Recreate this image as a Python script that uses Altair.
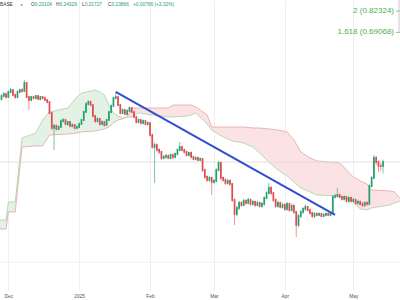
import altair as alt
import pandas as pd

# ---------------- data ----------------
START = "2024-11-28"
FIRST_OPEN = 0.4000
closes = [
    0.4101, 0.4169, 0.4067, 0.4238, 0.4308, 0.4135, 0.4067, 0.4238, 0.4308, 0.4273,
    0.4562, 0.4067, 0.3969, 0.4067, 0.4034, 0.4101, 0.4001, 0.4067, 0.4034, 0.3969,
    0.3905, 0.3568, 0.3155, 0.3208, 0.3130, 0.3181, 0.3341, 0.3369, 0.3260, 0.3314,
    0.3208, 0.3234, 0.3155, 0.3181, 0.3260, 0.3369, 0.3597, 0.3841, 0.3905, 0.3810,
    0.3481, 0.3341, 0.3397, 0.3260, 0.3314, 0.3234, 0.3369, 0.3597, 0.3779, 0.4034,
    0.4067, 0.3810, 0.3568, 0.3657, 0.3539, 0.3627, 0.3717, 0.3597, 0.3453, 0.3314,
    0.3369, 0.3287, 0.3341, 0.3260, 0.3287, 0.2979, 0.2700, 0.2745, 0.2635, 0.2592,
    0.2468, 0.2488, 0.2509, 0.2468, 0.2529, 0.2488, 0.2550, 0.2635, 0.2700, 0.2635,
    0.2592, 0.2529, 0.2571, 0.2488, 0.2448, 0.2468, 0.2427, 0.2448, 0.2236, 0.2112,
    0.2060, 0.2095, 0.2027, 0.2044, 0.2236, 0.2369, 0.2095, 0.2060, 0.2010, 0.2044,
    0.1994, 0.1749, 0.1560, 0.1638, 0.1707, 0.1679, 0.1735, 0.1707, 0.1749, 0.1693,
    0.1721, 0.1679, 0.1707, 0.1665, 0.1693, 0.1778, 0.1852, 0.1930, 0.1852, 0.1749,
    0.1665, 0.1707, 0.1652, 0.1679, 0.1625, 0.1693, 0.1611, 0.1665, 0.1585, 0.1425,
    0.1534, 0.1585, 0.1625, 0.1652, 0.1611, 0.1572, 0.1534, 0.1560, 0.1547, 0.1560,
    0.1534, 0.1547, 0.1560, 0.1547, 0.1572, 0.1793, 0.1807, 0.1822, 0.1793, 0.1764,
    0.1793, 0.1735, 0.1778, 0.1735, 0.1749, 0.1707, 0.1721, 0.1693, 0.1679, 0.1707,
    0.1693, 0.1961, 0.2095, 0.2468, 0.2388, 0.2311, 0.23104, 0.23866,
]
highs = [
    0.4170, 0.4230, 0.4220, 0.4280, 0.4390, 0.4340, 0.4180, 0.4290, 0.4350, 0.4370,
    0.4676, 0.4600, 0.4110, 0.4100, 0.4110, 0.4140, 0.4130, 0.4100, 0.4110, 0.4080,
    0.4000, 0.3930, 0.3600, 0.3260, 0.3250, 0.3220, 0.3380, 0.3420, 0.3400, 0.3350,
    0.3340, 0.3280, 0.3260, 0.3230, 0.3300, 0.3400, 0.3640, 0.3900, 0.3960, 0.3950,
    0.3840, 0.3510, 0.3440, 0.3430, 0.3360, 0.3340, 0.3400, 0.3640, 0.3830, 0.4080,
    0.4238, 0.4110, 0.3840, 0.3700, 0.3690, 0.3680, 0.3760, 0.3740, 0.3620, 0.3480,
    0.3410, 0.3400, 0.3380, 0.3370, 0.3330, 0.3310, 0.3010, 0.2800, 0.2780, 0.2670,
    0.2620, 0.2530, 0.2550, 0.2540, 0.2560, 0.2560, 0.2580, 0.2670, 0.2814, 0.2730,
    0.2660, 0.2620, 0.2600, 0.2600, 0.2510, 0.2500, 0.2490, 0.2480, 0.2470, 0.2260,
    0.2140, 0.2130, 0.2120, 0.2080, 0.2270, 0.2410, 0.2390, 0.2120, 0.2090, 0.2080,
    0.2070, 0.2010, 0.1770, 0.1670, 0.1740, 0.1730, 0.1770, 0.1760, 0.1780, 0.1770,
    0.1750, 0.1740, 0.1740, 0.1730, 0.1720, 0.1800, 0.1880, 0.2010, 0.1960, 0.1870,
    0.1770, 0.1740, 0.1730, 0.1710, 0.1700, 0.1720, 0.1710, 0.1700, 0.1690, 0.1600,
    0.1560, 0.1610, 0.1650, 0.1690, 0.1670, 0.1630, 0.1590, 0.1580, 0.1580, 0.1580,
    0.1570, 0.1570, 0.1580, 0.1580, 0.1590, 0.1820, 0.1840, 0.1930, 0.1840, 0.1810,
    0.1820, 0.1810, 0.1800, 0.1790, 0.1780, 0.1770, 0.1750, 0.1740, 0.1720, 0.1730,
    0.1730, 0.1990, 0.2130, 0.2529, 0.2510, 0.2420, 0.2370, 0.24329,
]
lows = [
    0.3960, 0.4060, 0.4020, 0.4040, 0.4200, 0.4090, 0.4010, 0.4040, 0.4200, 0.4220,
    0.4250, 0.4030, 0.3657, 0.3930, 0.3990, 0.3990, 0.3960, 0.3960, 0.3990, 0.3930,
    0.3860, 0.3530, 0.3110, 0.2635, 0.3090, 0.3100, 0.3160, 0.3300, 0.3230, 0.3220,
    0.3170, 0.3170, 0.3120, 0.3120, 0.3150, 0.3240, 0.3340, 0.3570, 0.3800, 0.3770,
    0.3440, 0.3290, 0.3300, 0.3220, 0.3230, 0.3190, 0.3210, 0.3340, 0.3560, 0.3750,
    0.3990, 0.3770, 0.3530, 0.3530, 0.3500, 0.3500, 0.3600, 0.3560, 0.3420, 0.3270,
    0.3280, 0.3250, 0.3250, 0.3220, 0.3220, 0.2940, 0.2660, 0.2010, 0.2600, 0.2550,
    0.2430, 0.2440, 0.2460, 0.2440, 0.2440, 0.2450, 0.2460, 0.2520, 0.2610, 0.2600,
    0.2560, 0.2500, 0.2500, 0.2460, 0.2420, 0.2420, 0.2400, 0.2400, 0.2200, 0.2080,
    0.2030, 0.2030, 0.1822, 0.2000, 0.2020, 0.2210, 0.2060, 0.2030, 0.1980, 0.1980,
    0.1960, 0.1720, 0.1425, 0.1530, 0.1610, 0.1650, 0.1660, 0.1680, 0.1690, 0.1670,
    0.1670, 0.1650, 0.1660, 0.1640, 0.1640, 0.1670, 0.1760, 0.1830, 0.1820, 0.1720,
    0.1640, 0.1640, 0.1630, 0.1630, 0.1600, 0.1600, 0.1590, 0.1590, 0.1560, 0.1292,
    0.1400, 0.1510, 0.1560, 0.1600, 0.1590, 0.1550, 0.1510, 0.1510, 0.1530, 0.1530,
    0.1520, 0.1520, 0.1530, 0.1530, 0.1530, 0.1560, 0.1770, 0.1780, 0.1770, 0.1740,
    0.1740, 0.1710, 0.1710, 0.1710, 0.1710, 0.1680, 0.1680, 0.1670, 0.1650, 0.1650,
    0.1670, 0.1680, 0.1940, 0.2080, 0.2330, 0.2200, 0.2220, 0.21727,
]

# Ichimoku cloud (leading spans A and B)
cloud_dates = [
    "2024-11-27", "2024-11-30", "2024-12-01", "2024-12-04", "2024-12-07", "2024-12-13",
    "2024-12-16", "2024-12-19", "2024-12-27", "2024-12-31", "2025-01-02", "2025-01-08",
    "2025-01-10", "2025-01-12", "2025-01-14", "2025-01-16", "2025-01-18", "2025-01-20",
    "2025-01-22", "2025-01-24", "2025-01-27", "2025-02-02", "2025-02-09", "2025-02-11",
    "2025-02-17", "2025-02-19", "2025-02-21", "2025-02-23", "2025-02-26", "2025-02-28",
    "2025-03-05", "2025-03-09", "2025-03-14", "2025-03-18", "2025-03-21", "2025-03-25",
    "2025-03-29", "2025-04-02", "2025-04-05", "2025-04-08", "2025-04-12", "2025-04-15",
    "2025-04-25", "2025-05-01", "2025-05-04", "2025-05-07", "2025-05-09", "2025-05-17",
    "2025-05-19", "2025-05-22",
]
span_a = [
    0.1484, 0.1484, 0.1721, 0.1721, 0.2907, 0.3029,
    0.3369, 0.3597, 0.3717, 0.4067, 0.4203, 0.4308,
    0.4238, 0.4135, 0.3810, 0.3568, 0.3481, 0.3425,
    0.3453, 0.3453, 0.3568, 0.3510, 0.3453, 0.3453,
    0.3481, 0.3510, 0.3568, 0.3453, 0.3260, 0.3104,
    0.2931, 0.2837, 0.2791, 0.2700, 0.2571, 0.2388,
    0.2236, 0.2129, 0.2027, 0.1930, 0.1868, 0.1822,
    0.1807, 0.1721, 0.1625, 0.1611, 0.1638, 0.1679,
    0.1707, 0.1735,
]
span_b = [
    0.1379, 0.1379, 0.1585, 0.1585, 0.2700, 0.2723,
    0.2723, 0.2979, 0.3004, 0.3029, 0.3054, 0.3079,
    0.3104, 0.3130, 0.3181, 0.3287, 0.3369, 0.3397,
    0.3453, 0.3717, 0.3717, 0.3717, 0.3717, 0.3810,
    0.3810, 0.3810, 0.3748, 0.3657, 0.3510, 0.3181,
    0.3181, 0.3181, 0.3181, 0.3155, 0.3155, 0.3130,
    0.3104, 0.3054, 0.2860, 0.2592, 0.2468, 0.2408,
    0.2369, 0.2112, 0.2044, 0.1994, 0.1898, 0.1883,
    0.1868, 0.1749,
]
CLOUD_CROSS = "2025-01-22"

# drawn trend line
trend_dates = ["2025-01-17", "2025-04-23"]
trend_prices = [0.4238, 0.1547]

# Fibonacci extension labels
fib_levels = [0.82324, 0.69068]
fib_labels = ["2 (0.82324)", "1.618 (0.69068)"]

last_price = 0.23866
grid_prices = [0.105]

header_texts = ["BASE", "●", "O", "0.23104", "H", "0.24329", "L", "0.21727", "C",
                "0.23866", "+0.00766 (+3.32%)"]
header_roles = ["sym", "dot", "lab", "val", "lab", "val", "lab", "val", "lab", "val", "val"]

month_starts = ["2024-12-01", "2025-01-01", "2025-02-01", "2025-03-01", "2025-04-01",
                "2025-05-01"]

# ---------------- styling ----------------
UP = "#22a06b"
DOWN = "#e04a50"
FIB_GREEN = "#4caf50"
FONT = "Liberation Sans"
W, H = 400, 290
header_x = [0, 20.5, 31, 34.7, 56, 59.5, 82, 84.7, 108, 111.5, 133]
header_colors = {"sym": "#333333", "dot": UP, "lab": "#444444", "val": UP}


def ms(s):
    return int(pd.Timestamp(s, tz="UTC").value // 10**6)


def iso(s):
    return pd.Timestamp(s, tz="UTC").strftime("%Y-%m-%dT%H:%M:%SZ")


x_scale = alt.Scale(type="utc", domain=[ms("2024-11-27T08:15"), ms("2025-05-21T10:00")])
x_axis = alt.Axis(
    values=[ms(m) for m in month_starts],
    labelExpr="utcmonth(datum.value) == 0 ? utcFormat(datum.value, '%Y') : utcFormat(datum.value, '%b')",
    title=None, domain=False, ticks=False, grid=True, gridColor="#efefef", gridWidth=1,
    labelFontSize=4.8, labelColor="#555555", labelFont=FONT, labelPadding=3,
    labelFlush=False, labelOverlap=False,
)
y_scale = alt.Scale(type="log", domain=[0.08361, 0.9009], nice=False, zero=False)


def X(field="date"):
    return alt.X(f"{field}:T", scale=x_scale, axis=x_axis)


def Y(field):
    return alt.Y(f"{field}:Q", scale=y_scale, axis=None)


# ---------------- frames ----------------
dates = pd.date_range(START, periods=len(closes), freq="D")
opens = [FIRST_OPEN] + closes[:-1]
candles = pd.DataFrame({
    "date": [d.strftime("%Y-%m-%dT00:00:00Z") for d in dates],
    "open": opens, "close": closes, "high": highs, "low": lows,
})
candles["dir"] = ["up" if c >= o else "down" for o, c in zip(opens, closes)]

cloud = pd.DataFrame({"date": [iso(d) for d in cloud_dates], "a": span_a, "b": span_b})
cross_idx = cloud_dates.index(CLOUD_CROSS)
green_part = cloud.iloc[: cross_idx + 1].assign(seg="g")
red_part = cloud.iloc[cross_idx:].assign(seg="r")

trend = pd.DataFrame({"date": [iso(d) for d in trend_dates], "p": trend_prices})
fib = pd.DataFrame({"p": fib_levels, "label": fib_labels})

dir_color = alt.Color("dir:N", scale=alt.Scale(domain=["up", "down"], range=[UP, DOWN]),
                      legend=None)

# ---------------- layers ----------------
grid_layer = alt.Chart(pd.DataFrame({"p": grid_prices})).mark_rule(
    color="#f1f1f1", strokeWidth=1).encode(y=Y("p"))

green_area = alt.Chart(green_part).mark_area(clip=True, color="#e4f2e6").encode(
    x=X(), y=Y("a"), y2="b:Q")
red_area = alt.Chart(red_part).mark_area(clip=True, color="#fce3e3").encode(
    x=X(), y=Y("a"), y2="b:Q")
line_a = alt.Chart(cloud).mark_line(clip=True, color="#a9cfa6", strokeWidth=0.8).encode(
    x=X(), y=Y("a"))
line_b = alt.Chart(cloud).mark_line(clip=True, color="#e3a5a3", strokeWidth=0.8).encode(
    x=X(), y=Y("b"))

price_line = alt.Chart(pd.DataFrame({"p": [last_price]})).mark_rule(
    color="#d9d9d9", strokeWidth=0.8).encode(y=Y("p"))

wicks = alt.Chart(candles).mark_rule(strokeWidth=0.6).encode(
    x=X(), y=Y("low"), y2="high:Q", color=dir_color)
bodies = alt.Chart(candles).mark_rule(strokeWidth=1.7, strokeCap="square").encode(
    x=X(), y=Y("open"), y2="close:Q", color=dir_color)

trend_layer = alt.Chart(trend).mark_line(color="#2f4fd0", strokeWidth=2).encode(
    x=X(), y=Y("p"))

fib_text = alt.Chart(fib).mark_text(
    align="right", baseline="middle", font=FONT, fontSize=8, color=FIB_GREEN
).encode(x=alt.value(394), y=Y("p"), text="label:N")
fib_ticks = alt.Chart(fib).mark_rule(color="#9e9e9e", strokeWidth=0.8).encode(
    x=alt.value(396), x2=alt.value(400), y=Y("p"))
fib_edge = alt.Chart(pd.DataFrame({"p": [fib_levels[-1]]})).mark_rule(
    color="#bdbdbd", strokeWidth=0.8).encode(x=alt.value(399), y=Y("p"), y2=alt.value(0))

header_layers = []
for txt, role, hx in zip(header_texts, header_roles, header_x):
    header_layers.append(
        alt.Chart(pd.DataFrame({"t": [txt]})).mark_text(
            align="left", baseline="middle", font=FONT,
            fontSize=3.6 if role == "dot" else 4.8,
            color=header_colors[role],
        ).encode(x=alt.value(hx), y=alt.value(5), text="t:N")
    )

chart = alt.layer(
    grid_layer, green_area, red_area, line_a, line_b, price_line, wicks, bodies,
    trend_layer, fib_ticks, fib_edge, fib_text, *header_layers,
).properties(
    width=W, height=H,
    autosize=alt.AutoSizeParams(type="none"),
    padding={"left": 0, "top": 0, "right": 0, "bottom": 10},
    background="#ffffff",
).configure_view(stroke=None)

chart.save("out.html", embed_options={"renderer": "svg", "actions": False})
